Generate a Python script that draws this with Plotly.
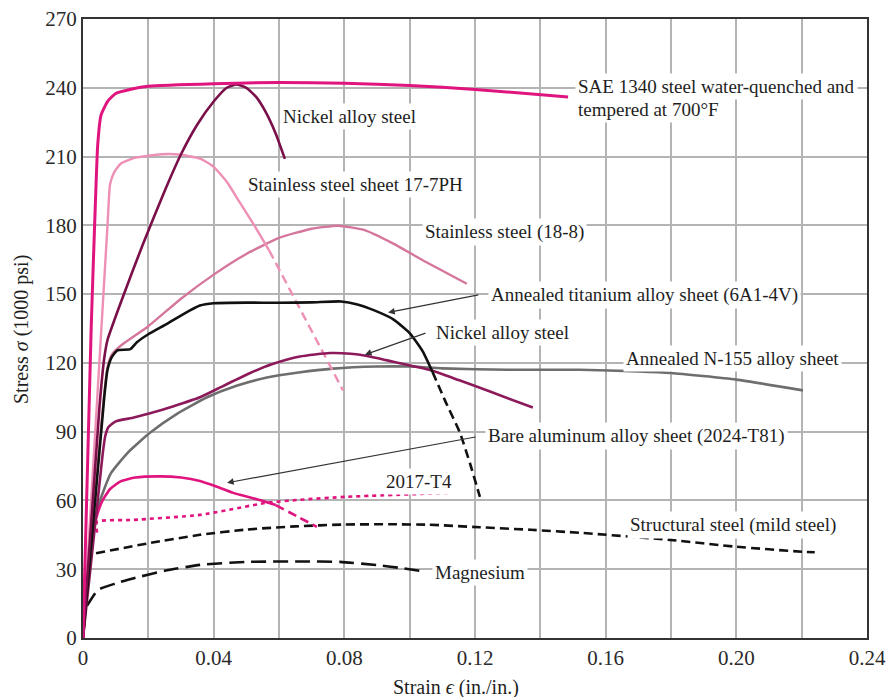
import plotly.graph_objects as go

# ---------------- data (strain in./in., stress 1000 psi) ----------------
sae_x = [0, 0.0025, 0.0038, 0.0045, 0.0055, 0.0075, 0.010, 0.015, 0.020, 0.040, 0.060, 0.080, 0.100, 0.120, 0.1485]
sae_y = [0, 135, 190, 215, 228, 234, 237.5, 239.5, 240.7, 241.8, 242.3, 242.0, 241.0, 239.3, 236.0]

ni1_x = [0, 0.005, 0.0065, 0.0075, 0.012, 0.0184, 0.025, 0.030, 0.035, 0.040, 0.044, 0.047, 0.050, 0.053, 0.0557, 0.059, 0.0618]
ni1_y = [0, 100, 122, 130, 148, 172, 195, 211, 224, 234, 240, 241.5, 240, 236, 230, 220, 209]

ph_x = [0, 0.0075, 0.0083, 0.0095, 0.0116, 0.016, 0.024, 0.030, 0.036, 0.040, 0.044, 0.048, 0.052, 0.057]
ph_y = [0, 180, 198, 203, 207, 209.5, 211, 210.8, 209, 205.5, 199, 190, 181, 169]
ph_dash_x = [0.057, 0.0796]
ph_dash_y = [169, 108]

ss_x = [0, 0.0075, 0.009, 0.012, 0.020, 0.030, 0.040, 0.050, 0.060, 0.070, 0.078, 0.086, 0.095, 0.105, 0.1175]
ss_y = [0, 118, 124, 128, 136, 148, 158.5, 167.5, 174.5, 178.5, 179.8, 178, 172, 164, 154.5]

ti_x = [0, 0.0065, 0.0075, 0.0088, 0.0105, 0.0145, 0.0165, 0.020, 0.0257, 0.031, 0.0358, 0.040, 0.050, 0.060, 0.070, 0.079, 0.084, 0.089, 0.095, 0.100, 0.104, 0.107]
ti_y = [0, 105, 117, 122.5, 125.5, 126, 129, 132.5, 137, 141.5, 145, 146, 146.3, 146.2, 146.4, 146.8, 145.5, 143, 139, 133, 125, 116]
ti_dash_x = [0.107, 0.111, 0.1154, 0.1185, 0.1215]
ti_dash_y = [116, 103, 89.5, 76, 61.6]

ni2_x = [0, 0.006, 0.0068, 0.0078, 0.010, 0.015, 0.0205, 0.0275, 0.0358, 0.043, 0.051, 0.058, 0.0664, 0.0756, 0.082, 0.087, 0.095, 0.106, 0.115, 0.1246, 0.1377]
ni2_y = [0, 80, 88, 92, 94.5, 96, 98, 101, 105, 110, 115.5, 119.5, 122.8, 124.3, 124, 123, 120.5, 117, 112.5, 107.5, 100.5]

n155_x = [0, 0.0015, 0.003, 0.0046, 0.0065, 0.0086, 0.0138, 0.0205, 0.029, 0.038, 0.047, 0.0563, 0.066, 0.0765, 0.090, 0.100, 0.110, 0.130, 0.152, 0.170, 0.180, 0.200, 0.2204]
n155_y = [0, 30, 46, 57, 65, 72, 81, 89.5, 98, 105, 110, 113.6, 115.8, 117.5, 118.4, 118.4, 117.6, 117, 117, 116.3, 115.6, 112.7, 108]

al_x = [0, 0.002, 0.004, 0.006, 0.0083, 0.0115, 0.016, 0.0236, 0.030, 0.0358, 0.041, 0.046, 0.052, 0.059]
al_y = [0, 35, 52, 60, 65, 68.3, 70, 70.5, 70, 68.5, 66, 63.3, 61, 58]
al_dash_x = [0.059, 0.0664, 0.0716]
al_dash_y = [58, 52.4, 48.5]

t4_x = [0.0043, 0.0043, 0.0153, 0.0358, 0.0563, 0.0664, 0.0808, 0.1123]
t4_y = [46, 50.7, 51.5, 53.7, 59, 60.3, 61.6, 63.3]

ms_x = [0.004, 0.0208, 0.0358, 0.050, 0.065, 0.080, 0.095, 0.106, 0.1215, 0.137, 0.152, 0.1797, 0.200, 0.2204, 0.224]
ms_y = [37, 41.5, 45, 47.3, 48.7, 49.5, 49.6, 49.4, 48.3, 47.2, 45.9, 42.8, 39.8, 37.6, 37.4]

mg_x = [0.0012, 0.0046, 0.010, 0.0153, 0.025, 0.0358, 0.050, 0.0664, 0.0787, 0.090, 0.097, 0.1047]
mg_y = [14, 21, 23.8, 26, 29.3, 31.9, 33.2, 33.4, 33.2, 31.8, 30.6, 29]

x_ticks = [0, 0.02, 0.04, 0.06, 0.08, 0.10, 0.12, 0.14, 0.16, 0.18, 0.20, 0.22, 0.24]
x_ticktext = ["0", "", "0.04", "", "0.08", "", "0.12", "", "0.16", "", "0.20", "", "0.24"]
y_ticks = [0, 30, 60, 90, 120, 150, 180, 210, 240, 270]

labels = [
    ("SAE 1340 steel water-quenched and", 0.1506, 240.7),
    ("tempered at 700°F", 0.1506, 230.7),
    ("Nickel alloy steel", 0.0603, 227.6),
    ("Stainless steel sheet 17-7PH", 0.0496, 197.9),
    ("Stainless steel (18-8)", 0.1038, 176.9),
    ("Annealed titanium alloy sheet (6A1-4V)", 0.1240, 149.8),
    ("Nickel alloy steel", 0.1071, 133.2),
    ("Annealed N-155 alloy sheet", 0.1653, 121.9),
    ("Bare aluminum alloy sheet (2024-T81)", 0.1230, 88.2),
    ("2017-T4", 0.0918, 68.2),
    ("Structural steel (mild steel)", 0.1665, 49.4),
    ("Magnesium", 0.1068, 28.4),
]
# arrows: (tip_x, tip_y, tail_x, tail_y)
arrows = [
    (0.0934, 142.0, 0.1215, 149.8),
    (0.0863, 123.6, 0.1053, 133.2),
    (0.0441, 67.7, 0.1206, 87.8),
]

FONT = "Liberation Serif"
MAG = "#e0147e"
TXT = "#1e1e1e"

fig = go.Figure()

def add(x, y, color, width=2.6, dash="solid", smooth=0.5):
    fig.add_trace(go.Scatter(x=x, y=y, mode="lines",
                             line=dict(color=color, width=width, dash=dash,
                                       shape="spline", smoothing=smooth),
                             hoverinfo="skip", showlegend=False))

add(mg_x, mg_y, "#111111", 2.6, "15px,7px")
add(ms_x, ms_y, "#111111", 2.6, "9px,5px")
add(t4_x, t4_y, MAG, 2.6, "4px,4px")
add(n155_x, n155_y, "#6e6e6e", 2.6)
add(ss_x, ss_y, "#d5769d", 2.4)
add(ph_x, ph_y, "#ee8fb6", 2.4)
add(ph_dash_x, ph_dash_y, "#ee8fb6", 2.4, "9px,5px")
add(al_x, al_y, MAG, 2.6)
add(al_dash_x, al_dash_y, MAG, 2.6, "9px,5px")
add(ni2_x, ni2_y, "#8c1a5b", 2.6)
add(ti_x, ti_y, "#111111", 2.6)
add(ti_dash_x, ti_dash_y, "#111111", 2.6, "9px,5px")
add(ni1_x, ni1_y, "#7a0f4a", 2.6)
add(sae_x, sae_y, MAG, 3.0)

annotations = []
for txt, x, y in labels:
    annotations.append(dict(x=x, y=y, xref="x", yref="y", text=txt, showarrow=False,
                            xanchor="left", yanchor="middle", bgcolor="white",
                            borderpad=2, font=dict(family=FONT, size=19, color=TXT)))
for tx, ty, sx, sy in arrows:
    annotations.append(dict(x=tx, y=ty, xref="x", yref="y", ax=sx, ay=sy, axref="x", ayref="y",
                            text="", showarrow=True, arrowhead=2, arrowsize=1.1, arrowwidth=1.2,
                            arrowcolor="#333333", standoff=0))
# axis titles
annotations.append(dict(x=(456 - 83) / 784, y=-(687 - 638) / 619, xref="paper", yref="paper",
                        text="Strain <i>ϵ</i> (in./in.)", showarrow=False,
                        xanchor="center", yanchor="middle",
                        font=dict(family=FONT, size=20, color=TXT)))
annotations.append(dict(x=-(83 - 21) / 784, y=(638 - 330) / 619, xref="paper", yref="paper",
                        text="Stress <i>σ</i> (1000 psi)", showarrow=False, textangle=-90,
                        xanchor="center", yanchor="middle",
                        font=dict(family=FONT, size=20, color=TXT)))

fig.update_layout(
    width=887, height=697,
    margin=dict(l=83, r=20, t=19, b=59),
    paper_bgcolor="white", plot_bgcolor="white",
    font=dict(family=FONT, size=21, color="#2a2a2a"),
    annotations=annotations,
    xaxis=dict(range=[0, 0.24], tickvals=x_ticks, ticktext=x_ticktext, automargin=False,
               showgrid=True, gridcolor="#b4b4b4", gridwidth=1.5, zeroline=False,
               showline=True, linecolor="#333333", linewidth=2, mirror=True,
               ticks="", tickfont=dict(family=FONT, size=21, color="#2a2a2a")),
    yaxis=dict(range=[0, 270], tickvals=y_ticks, automargin=False,
               showgrid=True, gridcolor="#b4b4b4", gridwidth=1.5, zeroline=False,
               showline=True, linecolor="#333333", linewidth=2, mirror=True,
               ticks="", tickfont=dict(family=FONT, size=21, color="#2a2a2a")),
)

fig.write_html("out.html")
